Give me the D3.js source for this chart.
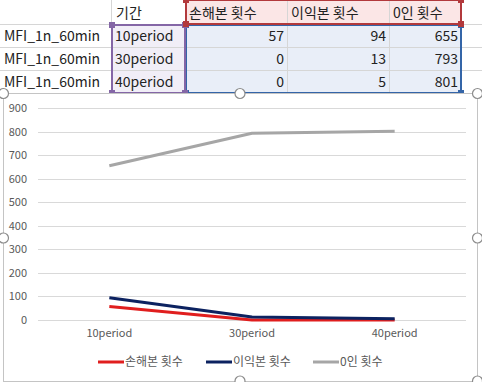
<!DOCTYPE html>
<html><head><meta charset="utf-8">
<script src="https://cdn.jsdelivr.net/npm/d3@7"></script>
<style>body{margin:0;background:#fff;}svg{display:block;}</style>
</head><body>
<svg id="c" width="482" height="382"></svg>
<script>
const rowLabels = ["MFI_1n_60min","MFI_1n_60min","MFI_1n_60min"];
const categories = ["10period","30period","40period"];
const seriesNames = ["손해본 횟수","이익본 횟수","0인 횟수"];
const headerLabel = "기간";
const lossCounts = [57,0,0];
const profitCounts = [94,13,5];
const zeroCounts = [655,793,801];
const yTicks = [0,100,200,300,400,500,600,700,800,900];
const seriesColors = ["#e01e1e","#0c2260","#a6a6a6"];

const svg = d3.select("#c");
const font = "'Noto Sans CJK KR','Noto Sans',sans-serif";
// ---- spreadsheet ----
const colX = [0,111,185,287,389,461,482];
const rowY = [-1,24,47,70,93];
const rng = (c0,c1,r0,r1,fill)=>{
  svg.append("rect").attr("x",colX[c0]).attr("y",rowY[r0]).attr("width",colX[c1]-colX[c0]).attr("height",rowY[r1]-rowY[r0]).attr("fill",fill);
};
rng(2,5,1,4,"#e9eef8");
rng(1,2,1,4,"#f1eef7");
rng(2,5,0,1,"#fbe6e6");
const g = svg.append("g").attr("stroke","#d6d6d6").attr("stroke-width",1);
colX.slice(1,-1).forEach(x=>g.append("line").attr("x1",x+0.5).attr("x2",x+0.5).attr("y1",0).attr("y2",93));
rowY.slice(1).forEach(y=>g.append("line").attr("x1",0).attr("x2",482).attr("y1",y+0.5).attr("y2",y+0.5));
const border=(c0,c1,r0,r1,stroke)=>{
  const x0=colX[c0]+1,x1=colX[c1],y0=rowY[r0]+1,y1=rowY[r1];
  svg.append("rect").attr("x",x0).attr("y",y0).attr("width",x1-x0).attr("height",y1-y0)
    .attr("fill","none").attr("stroke",stroke).attr("stroke-width",2);
  [[x0,y0],[x1,y0],[x0,y1],[x1,y1]].forEach(([x,y])=>svg.append("rect").attr("x",x-3).attr("y",y-3).attr("width",6).attr("height",6).attr("fill",stroke));
};
border(2,5,1,4,"#3465a8");
border(1,2,1,4,"#8466a6");
border(2,5,0,1,"#b2393c");
const cellText=(t,x,y,anchor)=>svg.append("text").attr("x",x).attr("y",y).attr("text-anchor",anchor||"start")
  .attr("font-family",font).attr("font-size",14).attr("fill","#222").text(t);
cellText(headerLabel,116,18);
seriesNames.forEach((s,i)=>cellText(s,colX[i+2]+4,18));
rowLabels.forEach((s,i)=>cellText(s,4,rowY[i+1]+17));
categories.forEach((s,i)=>cellText(s,115,rowY[i+1]+17));
[lossCounts,profitCounts,zeroCounts].forEach((arr,j)=>arr.forEach((v,i)=>cellText(v,colX[j+3]-3,rowY[i+1]+17,"end")));

// ---- chart ----
svg.append("rect").attr("x",3.5).attr("y",93.5).attr("width",474).attr("height",288).attr("fill","#fff").attr("stroke","#c4c4c4");
const x = d3.scaleBand().domain(categories).range([38,466]);
const y = d3.scaleLinear().domain([0,900]).range([320,108]);
const grid = svg.append("g");
yTicks.forEach(t=>{
  grid.append("line").attr("x1",38).attr("x2",466).attr("y1",Math.round(y(t))+0.5).attr("y2",Math.round(y(t))+0.5).attr("stroke","#d9d9d9");
});
const yAxis = svg.append("g").attr("transform","translate(38,0)").call(d3.axisLeft(y).tickValues(yTicks).tickSize(0).tickPadding(11));
yAxis.select(".domain").remove();
yAxis.selectAll("text").attr("font-family",font).attr("font-size",11).attr("fill","#595959");
const xAxis = svg.append("g").attr("transform","translate(0,320)").call(d3.axisBottom(x).tickSize(0).tickPadding(9));
xAxis.select(".domain").remove();
xAxis.selectAll("text").attr("font-family",font).attr("font-size",11).attr("fill","#595959");

const line = d3.line().x((d,i)=>x(categories[i])+x.bandwidth()/2).y(d=>y(d));
const seriesData=[lossCounts,profitCounts,zeroCounts];
[2,0,1].forEach(j=>{
  svg.append("path").attr("d",line(seriesData[j])).attr("fill","none").attr("stroke",seriesColors[j]).attr("stroke-width",3).attr("stroke-linejoin","round");
});
const legX=[98,206,313];
seriesNames.forEach((s,i)=>{
  svg.append("line").attr("x1",legX[i]).attr("x2",legX[i]+26).attr("y1",362).attr("y2",362).attr("stroke",seriesColors[i]).attr("stroke-width",3);
  svg.append("text").attr("x",legX[i]+27).attr("y",366).attr("font-family",font).attr("font-size",12).attr("fill","#595959").text(s);
});
[[3.5,93.5],[240,93.5],[477.5,93.5],[3.5,238],[477.5,238],[240,381],[477.5,381]].forEach(([cx,cy])=>{
  svg.append("circle").attr("cx",cx).attr("cy",cy).attr("r",5).attr("fill","#fff").attr("stroke","#8c8c8c").attr("stroke-width",1.2);
});
</script>
</body></html>
